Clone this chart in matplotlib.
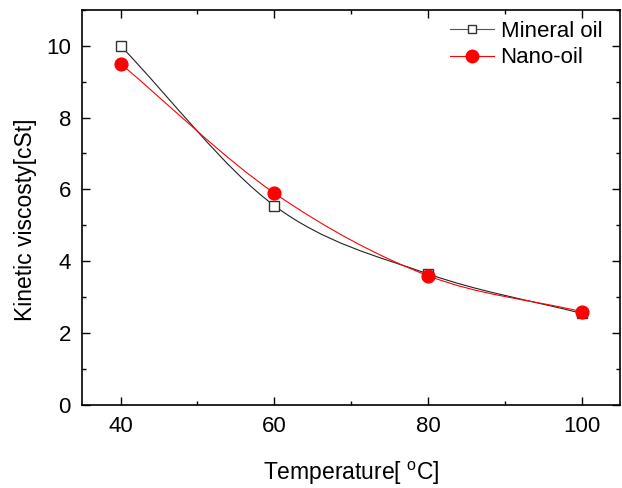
import matplotlib.pyplot as plt
from matplotlib.path import Path
from matplotlib.patches import PathPatch
from matplotlib.ticker import MultipleLocator

temperature = [40, 60, 80, 100]
mineral_oil = [10.0, 5.55, 3.65, 2.55]
nano_oil = [9.5, 5.9, 3.6, 2.6]

plt.rcParams['font.family'] = ['Liberation Sans', 'DejaVu Sans']
plt.rcParams['mathtext.fontset'] = 'custom'
plt.rcParams['mathtext.rm'] = 'Liberation Sans'


def smooth_path(x, y):
    # bezier segments through the points (Catmull-Rom tangents)
    n = len(x)
    slopes = []
    for i in range(n):
        if i == 0:
            s = (y[1] - y[0]) / (x[1] - x[0])
        elif i == n - 1:
            s = (y[-1] - y[-2]) / (x[-1] - x[-2])
        else:
            s = (y[i + 1] - y[i - 1]) / (x[i + 1] - x[i - 1])
        slopes.append(s)
    verts = [(x[0], y[0])]
    codes = [Path.MOVETO]
    for i in range(n - 1):
        h = (x[i + 1] - x[i]) / 3.0
        verts += [(x[i] + h, y[i] + slopes[i] * h),
                  (x[i + 1] - h, y[i + 1] - slopes[i + 1] * h),
                  (x[i + 1], y[i + 1])]
        codes += [Path.CURVE4] * 3
    return Path(verts, codes)


fig = plt.figure(figsize=(6.22, 4.88), dpi=100)
ax = fig.add_axes([0.132, 0.170, 0.865, 0.810])

ax.add_patch(PathPatch(smooth_path(temperature, mineral_oil), fill=False,
                       edgecolor='#222222', lw=0.8))
ax.add_patch(PathPatch(smooth_path(temperature, nano_oil), fill=False,
                       edgecolor='red', lw=0.8))

ax.plot(temperature, mineral_oil, linestyle='none', marker='s', ms=7.7,
        mfc='white', mec='#333333', mew=1.0, zorder=3)
ax.plot(temperature, nano_oil, linestyle='none', marker='o', ms=9.2,
        mfc='red', mec='red', zorder=4)

# legend handles
h1, = ax.plot([], [], color='#555555', lw=0.8, marker='s', ms=6.3,
              mfc='white', mec='#333333', mew=1.0)
h2, = ax.plot([], [], color='red', lw=0.8, marker='o', ms=9.0,
              mfc='red', mec='red')
ax.legend([h1, h2], ['Mineral oil', 'Nano-oil'], loc='upper right',
          frameon=False, fontsize=16, handlelength=2.0, handletextpad=0.3,
          borderaxespad=0.0, borderpad=0.2, labelspacing=0.25,
          bbox_to_anchor=(0.975, 0.983))

ax.set_xlim(35, 105)
ax.set_ylim(0, 11)
ax.xaxis.set_major_locator(MultipleLocator(20))
ax.xaxis.set_minor_locator(MultipleLocator(10))
ax.yaxis.set_major_locator(MultipleLocator(2))
ax.yaxis.set_minor_locator(MultipleLocator(1))
ax.tick_params(which='both', direction='in', top=True, right=True,
               width=1.0, labelsize=16)
ax.tick_params(which='major', length=6, pad=8)
ax.tick_params(which='minor', length=3)
for sp in ax.spines.values():
    sp.set_linewidth(1.2)

ax.set_xlabel('Temperature[ $^\\mathregular{o}$C]', fontsize=16.5, labelpad=16)
ax.set_ylabel('Kinetic viscosty[cSt]', fontsize=16.5)
ax.yaxis.set_label_coords(-0.084, 0.47)

plt.savefig('out.png', dpi=100)
